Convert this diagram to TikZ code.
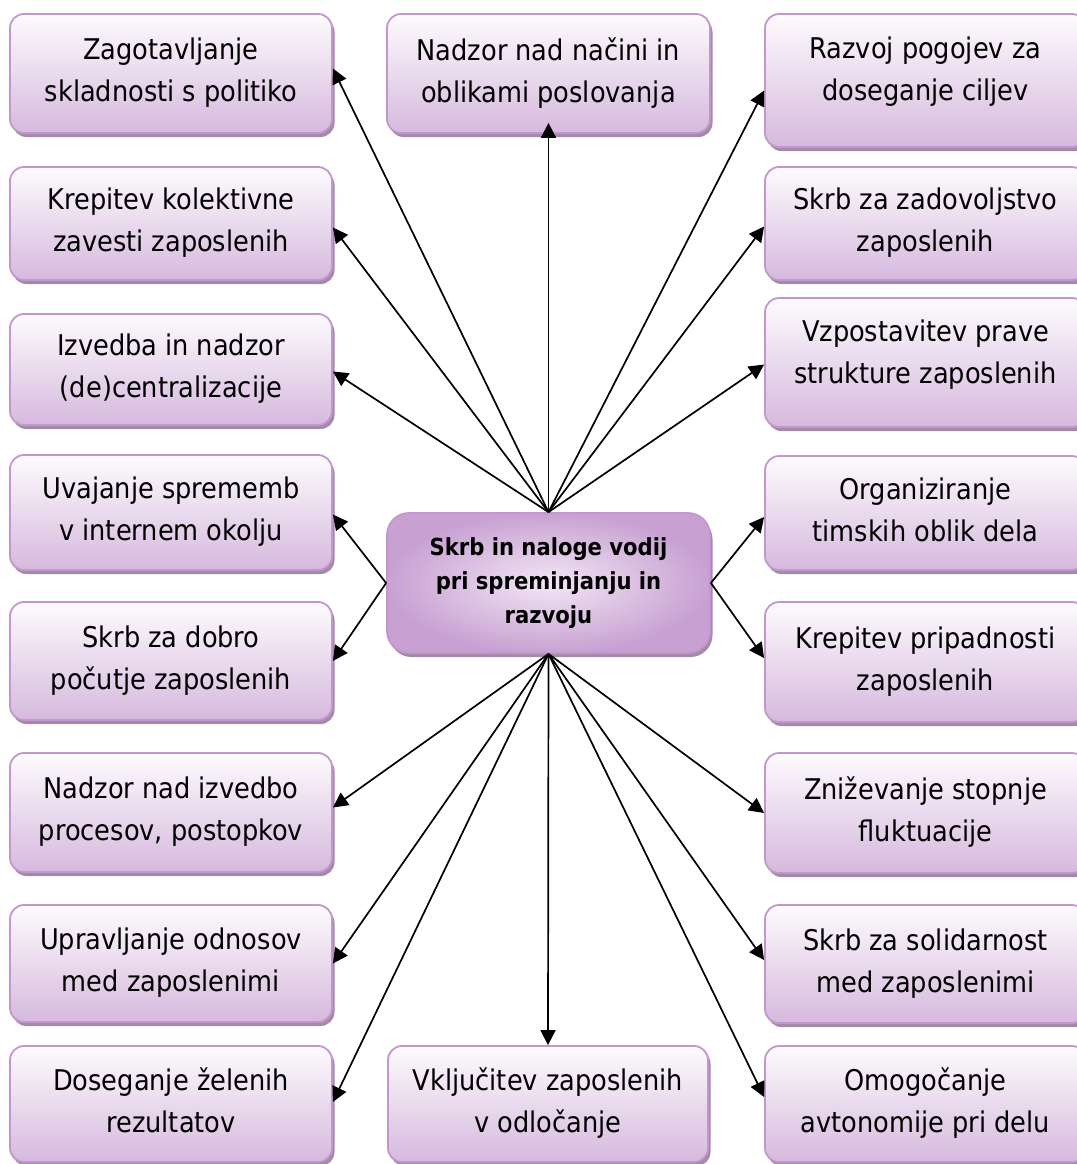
\documentclass[tikz,border=0pt]{standalone}
\usepackage{fontspec}
\setmainfont{DejaVu Sans Condensed}[BoldFont={DejaVu Sans Condensed Bold}]
\usetikzlibrary{arrows.meta,shadows,calc}
\definecolor{boxtop}{HTML}{FDFBFD}
\definecolor{boxbot}{HTML}{D6B9DE}
\definecolor{bordercol}{HTML}{C397CD}
\definecolor{shadowcol}{HTML}{A38BA8}
\definecolor{hubin}{HTML}{F2E6F5}
\definecolor{hubout}{HTML}{C8A1D2}
\begin{document}
\begin{tikzpicture}[x=1pt,y=-1pt,
  leaf/.style={rounded corners=14pt, draw=bordercol, line width=1.8pt,
    top color=boxtop, bottom color=boxbot, align=center, inner sep=0pt,
    text depth=7pt, font=\fontsize{28.5}{42}\selectfont,
    general shadow={fill=shadowcol, shadow xshift=2.5pt, shadow yshift=-4pt}},
  leftcol/.style={leaf, minimum width=322pt},
  rightcol/.style={leaf, minimum width=321pt},
  hub/.style={rounded corners=22pt, draw=bordercol, line width=1.8pt,
    inner color=hubin, outer color=hubout, align=center, inner sep=0pt,
    minimum width=323pt, minimum height=140pt,
    font=\bfseries\fontsize{23.5}{34}\selectfont,
    general shadow={fill=shadowcol, shadow xshift=2.5pt, shadow yshift=-4pt}},
  link/.style={line width=1.7pt, -{Triangle[length=15pt,width=15pt]}}]
\useasboundingbox (0,0) rectangle (1076,1164);

% left column
\node[leftcol, minimum height=119pt] (L1) at (171,73.5) {Zagotavljanje\\skladnosti s politiko};
\node[leftcol, minimum height=113pt] (L2) at (171,223.5) {Krepitev kolektivne\\zavesti zaposlenih};
\node[leftcol, minimum height=111pt] (L3) at (171,369.5) {Izvedba in nadzor\\(de)centralizacije};
\node[leftcol, minimum height=115pt] (L4) at (171,512.5) {Uvajanje sprememb\\v internem okolju};
\node[leftcol, minimum height=118pt] (L5) at (171,661) {Skrb za dobro\\počutje zaposlenih};
\node[leftcol, minimum height=119pt] (L6) at (171,812.5) {Nadzor nad izvedbo\\procesov, postopkov};
\node[leftcol, minimum height=117pt] (L7) at (171,963.5) {Upravljanje odnosov\\med zaposlenimi};
\node[leftcol, minimum height=116pt] (L8) at (171,1104) {Doseganje želenih\\rezultatov};

% right column
\node[rightcol, minimum height=133pt, text depth=24pt] (R1) at (925.5,80.5) {Razvoj pogojev za\\doseganje ciljev};
\node[rightcol, minimum height=113pt] (R2) at (925.5,223.5) {Skrb za zadovoljstvo\\zaposlenih};
\node[rightcol, minimum height=129pt, text depth=22pt] (R3) at (925.5,362.5) {Vzpostavitev prave\\strukture zaposlenih};
\node[rightcol, minimum height=114pt] (R4) at (925.5,513) {Organiziranje\\timskih oblik dela};
\node[rightcol, minimum height=120pt] (R5) at (925.5,662) {Krepitev pripadnosti\\zaposlenih};
\node[rightcol, minimum height=120pt] (R6) at (925.5,813) {Zniževanje stopnje\\fluktuacije};
\node[rightcol, minimum height=118pt] (R7) at (925.5,964) {Skrb za solidarnost\\med zaposlenimi};
\node[rightcol, minimum height=116pt] (R8) at (925.5,1104) {Omogočanje\\avtonomije pri delu};

% middle column
\node[leaf, minimum width=323pt, minimum height=119pt] (T) at (548.5,73.5) {Nadzor nad načini in\\oblikami poslovanja};
\node[leaf, minimum width=320pt, minimum height=116pt] (B) at (548,1104) {Vključitev zaposlenih\\v odločanje};
\node[hub] (C) at (548.5,583) {Skrb in naloge vodij\\pri spreminjanju in\\razvoju};

% connectors
\draw[link] (C.north) -- ([yshift=5pt]L1.east);
\draw[link] (C.north) -- ([yshift=-4pt]L2.east);
\draw[link] (C.north) -- ([yshift=-2pt]L3.east);
\draw[link] (C.west) -- ([yshift=-2pt]L4.east);
\draw[link] (C.west) -- (L5.east);
\draw[link] (C.south) -- ([yshift=5pt]L6.east);
\draw[link] (C.south) -- (L7.east);
\draw[link] (C.south) -- ([yshift=2pt]L8.east);

\draw[link] (C.north) -- ([yshift=11pt]T.south);
\draw[link] (C.south) -- (B.north);

\draw[link] (C.north) -- ([yshift=-10pt]R1.west);
\draw[link] (C.north) -- ([yshift=-3pt]R2.west);
\draw[link] (C.north) -- ([yshift=-2pt]R3.west);
\draw[link] (C.east) -- ([yshift=-4pt]R4.west);
\draw[link] (C.east) -- ([yshift=4pt]R5.west);
\draw[link] (C.south) -- (R6.west);
\draw[link] (C.south) -- ([yshift=4pt]R7.west);
\draw[link] (C.south) -- ([yshift=7pt]R8.west);
\end{tikzpicture}
\end{document}
